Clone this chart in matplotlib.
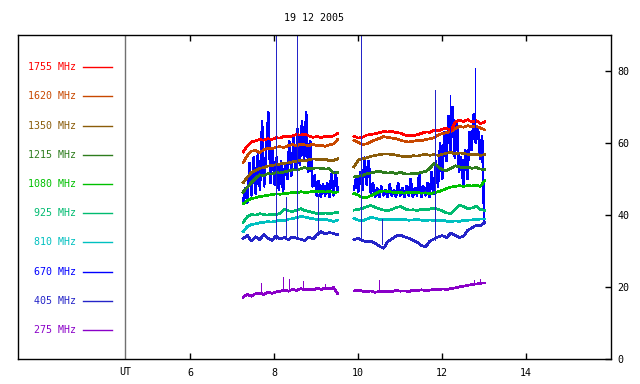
import matplotlib
matplotlib.use("Agg")
import matplotlib.pyplot as plt
import numpy as np

# time grids (UT hours) for the two observing blocks
t1 = np.linspace(7.26, 9.51, 24)
t2 = np.linspace(9.90, 13.01, 32)
# finer grid for the noisy 670 MHz channel
tb1 = np.linspace(7.26, 9.51, 46)
tb2 = np.linspace(9.90, 13.00, 63)

freqs = ["1755", "1620", "1350", "1215", "1080", "925", "810", "670", "405", "275"]
colors = ["#ff0000", "#c84800", "#8b5c0a", "#2e7d1e", "#00c000",
          "#00bb70", "#00c0c0", "#0000ff", "#2424c8", "#8a00c8"]

f1755_a = [57.5, 59.2, 60.3, 60.6, 61.0, 60.8, 61.2, 61.0, 61.5, 61.4, 61.9, 61.7,
           62.0, 62.4, 62.2, 62.5, 62.0, 61.6, 61.8, 61.5, 61.9, 61.7, 62.0, 62.7]
f1755_b = [61.9, 61.4, 61.6, 62.2, 62.4, 62.6, 62.9, 63.2, 63.1, 63.2, 62.9, 62.8,
           62.3, 62.0, 62.1, 62.3, 62.7, 63.1, 63.0, 63.6, 63.4, 63.9, 64.1, 63.5,
           65.8, 66.4, 66.0, 66.5, 65.8, 66.2, 65.4, 65.9]

f1620_a = [54.6, 56.5, 57.8, 57.9, 57.4, 58.1, 58.6, 58.4, 58.9, 59.0, 58.8, 59.3,
           59.6, 59.2, 59.8, 59.5, 59.3, 59.7, 59.2, 59.4, 59.1, 59.5, 59.8, 61.0]
f1620_b = [60.8, 60.2, 59.6, 59.8, 60.4, 60.9, 61.3, 61.8, 61.6, 61.4, 61.2, 60.8,
           60.5, 60.3, 60.5, 60.7, 60.6, 61.0, 61.2, 61.5, 62.3, 62.6, 62.9, 63.2,
           64.0, 64.6, 64.4, 64.8, 64.5, 64.7, 64.2, 63.7]

f1350_a = [49.0, 50.5, 51.8, 52.4, 53.0, 53.2, 53.6, 53.8, 54.0, 54.2, 54.4, 54.5,
           54.8, 54.9, 55.2, 55.0, 55.4, 55.6, 55.5, 55.3, 55.6, 55.0, 55.2, 55.6]
f1350_b = [53.4, 55.3, 55.6, 55.9, 56.3, 56.6, 56.8, 57.0, 57.0, 56.8, 56.7, 56.4,
           56.3, 56.2, 56.5, 56.4, 56.7, 56.9, 56.6, 56.8, 56.6, 56.9, 57.2, 57.4,
           57.0, 57.3, 57.1, 56.9, 56.7, 56.9, 56.6, 56.8]

f1215_a = [46.4, 47.8, 49.0, 50.2, 51.2, 51.0, 51.5, 51.4, 51.8, 51.7, 52.0, 52.3,
           52.6, 52.5, 52.9, 53.2, 52.8, 53.0, 53.1, 53.0, 52.8, 52.9, 51.7, 51.8]
f1215_b = [50.6, 50.8, 51.0, 51.5, 51.7, 52.0, 52.2, 51.9, 51.7, 51.8, 51.6, 51.9,
           51.5, 51.4, 51.6, 51.5, 51.9, 52.1, 53.0, 54.4, 53.4, 52.6, 52.4, 53.0,
           53.7, 53.4, 53.1, 53.3, 53.0, 53.2, 52.8, 52.7]

f1080_a = [43.2, 44.0, 44.6, 44.8, 45.2, 45.3, 45.5, 45.7, 45.9, 45.8, 46.0, 46.1,
           46.3, 46.2, 46.5, 46.3, 46.4, 46.6, 46.5, 46.7, 46.4, 46.6, 46.3, 46.4]
f1080_b = [46.0, 45.6, 44.8, 44.9, 45.4, 46.0, 46.5, 46.7, 46.6, 46.4, 46.2, 46.3,
           46.1, 46.4, 46.2, 46.3, 46.1, 46.2, 46.0, 46.2, 46.5, 46.9, 47.4, 47.8,
           48.0, 48.2, 48.0, 48.2, 48.1, 48.3, 48.0, 49.6]

f925_a = [37.9, 39.6, 40.2, 40.0, 40.4, 40.2, 40.0, 40.3, 40.1, 40.5, 41.6, 41.2,
          41.0, 41.4, 41.8, 41.3, 41.0, 40.7, 40.5, 40.4, 40.6, 40.4, 40.6, 40.8]
f925_b = [41.4, 41.6, 41.9, 42.3, 42.7, 42.2, 41.8, 41.4, 41.3, 41.6, 42.1, 42.4,
          41.8, 41.4, 41.5, 41.3, 41.6, 41.5, 41.7, 41.9, 41.6, 41.2, 40.6, 40.5,
          41.6, 42.8, 42.4, 41.8, 42.0, 42.5, 41.6, 41.3]

f810_a = [35.4, 36.8, 37.4, 37.6, 37.9, 38.0, 38.2, 38.1, 38.4, 38.6, 38.5, 38.9,
          39.0, 39.3, 39.6, 39.5, 39.2, 39.0, 38.8, 38.7, 38.9, 38.5, 38.3, 38.6]
f810_b = [39.1, 38.6, 38.4, 38.9, 39.4, 39.2, 38.8, 38.7, 38.9, 38.8, 38.7, 38.9,
          38.8, 38.6, 38.7, 38.8, 38.6, 38.5, 38.7, 38.5, 38.4, 38.6, 38.3, 38.2,
          38.4, 38.3, 38.5, 38.6, 38.7, 38.8, 38.9, 38.9]

f670_a = [44.0, 47.5, 43.5, 54.5, 45.5, 56.0, 46.0, 57.0, 47.0, 66.0, 48.0, 58.5,
          68.5, 49.0, 58.0, 48.5, 56.0, 47.0, 55.0, 46.5, 54.5, 50.0, 60.5, 51.0,
          61.5, 53.0, 64.0, 54.0, 66.0, 55.0, 68.5, 52.0, 60.5, 48.0, 51.0, 45.5,
          49.5, 45.0, 48.5, 45.5, 49.0, 45.0, 51.5, 45.5, 52.0, 47.0]
f670_b = [47.0, 50.5, 46.5, 52.0, 47.0, 56.0, 48.5, 55.0, 46.0, 49.0, 45.0, 47.5,
          45.0, 48.0, 45.5, 47.0, 45.0, 48.5, 45.5, 47.0, 45.0, 49.0, 45.5, 47.5,
          45.0, 48.0, 45.5, 50.0, 45.0, 47.5, 45.5, 51.5, 45.0, 48.0, 45.5, 49.0,
          45.0, 52.0, 46.0, 55.0, 48.0, 60.0, 50.0, 63.0, 55.0, 67.5, 58.0, 70.0,
          56.0, 66.0, 52.0, 56.0, 48.5, 58.0, 50.0, 63.0, 58.0, 68.0, 60.0, 64.5,
          55.5, 62.0, 38.0]

f405_a = [33.5, 34.4, 32.8, 34.0, 33.2, 34.6, 33.6, 33.0, 34.2, 33.4, 33.8, 33.2,
          34.0, 33.6, 33.3, 33.0, 33.9, 33.4, 34.6, 35.4, 34.8, 35.2, 34.9, 34.6]
f405_b = [33.2, 33.6, 33.0, 32.6, 32.8, 32.2, 31.4, 30.8, 32.6, 33.4, 34.2, 34.5,
          34.0, 33.6, 33.0, 32.5, 31.6, 31.2, 32.8, 33.4, 34.0, 34.3, 33.8, 35.0,
          34.4, 33.8, 34.2, 35.8, 36.5, 37.2, 37.0, 38.0]

f275_a = [17.3, 18.0, 17.5, 18.2, 18.4, 18.0, 18.6, 18.3, 18.7, 18.9, 19.2, 18.9,
          19.4, 19.1, 19.6, 19.3, 19.5, 19.2, 19.7, 19.4, 19.8, 19.5, 19.9, 18.2]
f275_b = [19.0, 19.2, 18.9, 18.7, 19.0, 18.6, 18.8, 18.9, 18.7, 18.8, 19.1, 18.9,
          19.0, 18.8, 19.2, 19.0, 19.3, 19.1, 19.2, 19.4, 19.3, 19.5, 19.4, 19.6,
          19.8, 20.1, 20.3, 20.5, 20.8, 20.9, 21.1, 21.2]

# short impulsive spikes: time, base, peak
spk405_t = [8.04, 8.28, 8.54, 9.04, 10.07, 10.56, 11.83]
spk405_lo = [33.4, 33.6, 33.6, 34.6, 33.6, 32.0, 33.0]
spk405_hi = [95.0, 45.0, 95.0, 46.0, 95.0, 39.0, 74.8]
spk670_t = [12.18, 12.79]
spk670_lo = [58.0, 60.0]
spk670_hi = [73.4, 80.8]
spk275_t = [7.68, 8.22, 8.34, 8.68, 9.22, 10.49, 12.75, 12.90]
spk275_lo = [18.3, 19.1, 19.0, 19.3, 19.5, 19.0, 20.6, 20.9]
spk275_hi = [21.3, 22.8, 22.3, 21.8, 20.8, 21.9, 22.0, 22.2]

series = {
    "1755": (f1755_a, f1755_b), "1620": (f1620_a, f1620_b),
    "1350": (f1350_a, f1350_b), "1215": (f1215_a, f1215_b),
    "1080": (f1080_a, f1080_b), "925": (f925_a, f925_b),
    "810": (f810_a, f810_b), "670": (f670_a, f670_b),
    "405": (f405_a, f405_b), "275": (f275_a, f275_b),
}

mono = "DejaVu Sans Mono"
fs = 7.2

fig = plt.figure(figsize=(6.4, 3.84), dpi=100)
ax = fig.add_axes([0.0281, 0.0643, 0.926, 0.8446])

# draw the 670 channel first so the smooth channels sit on top
order = ["670", "275", "405", "810", "925", "1080", "1215", "1350", "1620", "1755"]
for f in order:
    c = colors[freqs.index(f)]
    a, b = series[f]
    if f == "670":
        ax.plot(tb1, a, color=c, lw=1.1, antialiased=False)
        ax.plot(tb2, b, color=c, lw=1.1, antialiased=False)
    else:
        ax.plot(t1, a, color=c, lw=1.2, antialiased=False)
        ax.plot(t2, b, color=c, lw=1.2, antialiased=False)

ax.vlines(spk670_t, spk670_lo, spk670_hi, color=colors[7], lw=0.7, antialiased=False)
ax.vlines(spk405_t, spk405_lo, spk405_hi, color=colors[8], lw=0.7, antialiased=False)
ax.vlines(spk275_t, spk275_lo, spk275_hi, color=colors[9], lw=0.7, antialiased=False)

# UT marker line separating the key from the data
ax.axvline(4.45, color="#707070", lw=1.0)

# key on the left, inside the frame
for i, (f, c) in enumerate(zip(freqs, colors)):
    yk = 81.1 - i * 8.11
    ax.plot([3.445, 4.136], [yk, yk], color=c, lw=1.0)
    ax.text(3.28, yk, f + " MHz", color=c, ha="right", va="center",
            family=mono, fontsize=fs)

ax.set_xlim(1.898, 16.01)
ax.set_ylim(0, 90)

ax.set_xticks([6, 8, 10, 12, 14])
ax.tick_params(axis="x", direction="in", length=4, top=True, bottom=True,
               labelsize=fs, pad=6, width=1)
ax.yaxis.tick_right()
ax.set_yticks([0, 20, 40, 60, 80])
ax.tick_params(axis="y", direction="in", length=4, left=False, right=True,
               labelsize=fs, pad=5, width=1)
for lab in ax.get_xticklabels() + ax.get_yticklabels():
    lab.set_family(mono)

ax.text(4.45, -2.0, "UT", ha="center", va="top", family=mono, fontsize=fs,
        transform=ax.transData)

for s in ax.spines.values():
    s.set_linewidth(1.0)

fig.text(0.4906, 0.953, "19 12 2005", ha="center", va="center",
         family=mono, fontsize=fs)

fig.savefig("out.png", dpi=100)
